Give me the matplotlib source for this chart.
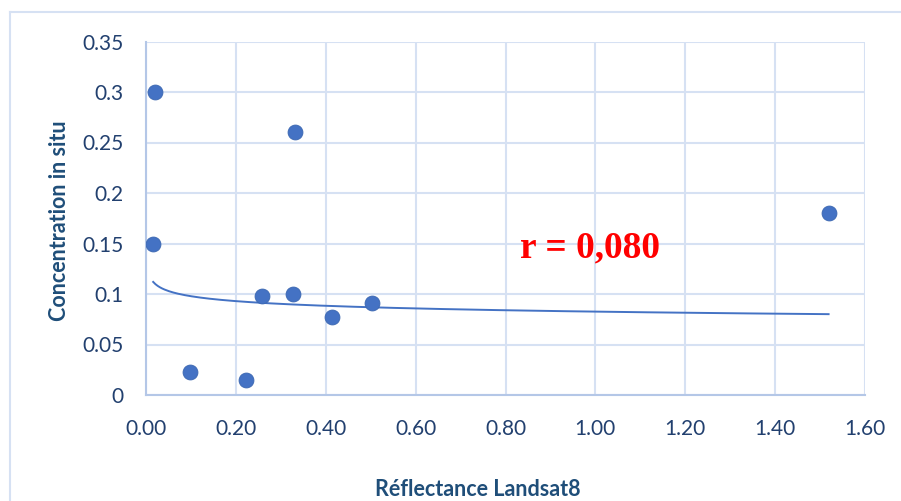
import numpy as np
import matplotlib
matplotlib.use("Agg")
import matplotlib.pyplot as plt
from matplotlib.lines import Line2D

# Landsat 8 reflectance vs. in-situ concentration
reflectance = [0.020, 0.332, 0.016, 0.259, 0.328, 0.415, 0.504, 0.098, 0.222, 1.519]
concentration = [0.300, 0.260, 0.150, 0.098, 0.100, 0.077, 0.091, 0.023, 0.015, 0.180]
x_ticks = [0.00, 0.20, 0.40, 0.60, 0.80, 1.00, 1.20, 1.40, 1.60]
y_ticks = [0, 0.05, 0.1, 0.15, 0.2, 0.25, 0.3, 0.35]
y_tick_labels = ["0", "0.05", "0.1", "0.15", "0.2", "0.25", "0.3", "0.35"]
r_label = "r = 0,080"

W, H = 901, 501
fig = plt.figure(figsize=(W / 100, H / 100), dpi=100)
ax = fig.add_axes([146 / W, (H - 395) / H, (865 - 146) / W, (395 - 41.5) / H])

grid_c = "#D6E1F3"
tick_c = "#22406F"
title_c = "#1F4E79"
point_c = "#4472C4"

x = np.array(reflectance)
y = np.array(concentration)

# power-law trend line (fit in log-log space)
b, ln_a = np.polyfit(np.log(x), np.log(y), 1)
xs = np.linspace(x.min(), x.max(), 300)
ax.plot(xs, np.exp(ln_a) * xs ** b, color=point_c, lw=1.4, zorder=2)

ax.scatter(x, y, s=115, color=point_c, edgecolors="#3A66B0", linewidths=0.6, zorder=3)

ax.set_xlim(0, 1.6)
ax.set_ylim(0, 0.35)
ax.set_xticks(x_ticks)
ax.set_xticklabels([f"{v:.2f}" for v in x_ticks])
ax.set_yticks(y_ticks)
ax.set_yticklabels(y_tick_labels)
ax.grid(True, color=grid_c, lw=1.5, zorder=0)
ax.set_axisbelow(True)
for side in ["top", "right"]:
    ax.spines[side].set_visible(False)
for side in ["left", "bottom"]:
    ax.spines[side].set_color("#B4C7E7")
    ax.spines[side].set_linewidth(1.5)
ax.tick_params(length=0, colors=tick_c, labelsize=15)
ax.tick_params(axis="y", pad=16)
ax.tick_params(axis="x", pad=17)
for lab in ax.get_xticklabels() + ax.get_yticklabels():
    lab.set_fontfamily("Lato")

fig.text(478 / W, 1 - 489 / H, "Réflectance Landsat8", ha="center", va="center",
         fontsize=15.5, fontweight="bold", color=title_c, family="Lato")
fig.text(60 / W, 1 - 221 / H, "Concentration in situ", ha="center", va="center",
         rotation=90, fontsize=15.5, fontweight="bold", color=title_c, family="Lato")

ax.text(0.832, 0.1365, r_label, ha="left", va="baseline", color="#FF0000",
        fontsize=27, fontweight="bold", family="Liberation Serif")

# chart frame
fc = "#D6E1F3"
fig.add_artist(Line2D([10 / W, 1], [1 - 12 / H, 1 - 12 / H], color=fc, lw=1.5))
fig.add_artist(Line2D([10 / W, 10 / W], [0, 1 - 12 / H], color=fc, lw=1.5))

fig.savefig("out.png", dpi=100)
